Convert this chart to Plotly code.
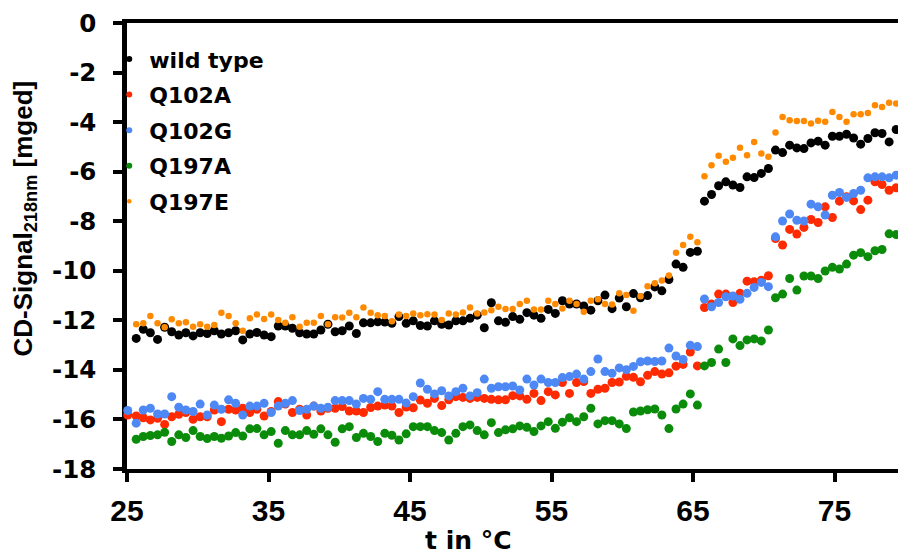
import plotly.graph_objects as go

# Temperature grid (°C); first entry is the extra leading reading of Q102A / Q102G
temps = [25.05,
         25.65, 26.15, 26.65, 27.16, 27.66, 28.16, 28.66, 29.16, 29.67, 30.17,
         30.67, 31.17, 31.67, 32.18, 32.68, 33.18, 33.68, 34.18, 34.69, 35.19,
         35.69, 36.19, 36.69, 37.20, 37.70, 38.20, 38.70, 39.20, 39.71, 40.21,
         40.71, 41.21, 41.71, 42.22, 42.72, 43.22, 43.72, 44.22, 44.73, 45.23,
         45.73, 46.23, 46.73, 47.24, 47.74, 48.24, 48.74, 49.24, 49.75, 50.25,
         50.75, 51.25, 51.75, 52.26, 52.76, 53.26, 53.76, 54.26, 54.77, 55.27,
         55.77, 56.27, 56.77, 57.28, 57.78, 58.28, 58.78, 59.28, 59.79, 60.29,
         60.79, 61.29, 61.79, 62.30, 62.80, 63.30, 63.80, 64.30, 64.81, 65.31,
         65.81, 66.31, 66.81, 67.32, 67.82, 68.32, 68.82, 69.32, 69.83, 70.33,
         70.83, 71.33, 71.83, 72.34, 72.84, 73.34, 73.84, 74.34, 74.85, 75.35,
         75.85, 76.35, 76.85, 77.36, 77.86, 78.36, 78.86, 79.36, 79.70]

wild_type = [None,
    -12.73, -12.36, -12.50, -12.77, -12.28, -12.46, -12.59, -12.50, -12.63, -12.50,
    -12.53, -12.42, -12.55, -12.50, -12.42, -12.79, -12.55, -12.49, -12.59, -12.66,
    -12.23, -12.23, -12.32, -12.50, -12.55, -12.55, -12.39, -12.16, -12.46, -12.42,
    -12.23, -12.53, -12.10, -12.10, -12.06, -12.07, -12.12, -11.85, -12.12, -12.02,
    -12.21, -12.23, -12.02, -12.16, -12.19, -12.02, -12.02, -11.92, -11.79, -12.30,
    -11.29, -12.02, -12.08, -11.85, -11.96, -11.69, -11.79, -11.92, -11.56, -11.72,
    -11.21, -11.34, -11.34, -11.42, -11.59, -11.21, -10.98, -11.53, -11.10, -11.45,
    -10.92, -11.09, -11.00, -10.65, -10.81, -10.35, -9.73, -9.86, -9.26, -9.21,
    -7.19, -6.92, -6.57, -6.41, -6.54, -6.64, -6.21, -6.24, -6.07, -5.87,
    -5.13, -5.23, -4.93, -5.04, -5.07, -4.84, -4.77, -4.93, -4.57, -4.57,
    -4.49, -4.64, -4.89, -4.66, -4.43, -4.46, -4.80, -4.30, -4.06]

q102a = [-15.82,
    -15.86, -15.93, -16.02, -15.95, -16.20, -15.89, -15.79, -15.72, -15.99, -15.89,
    -15.89, -15.62, -16.09, -15.59, -15.62, -15.55, -15.72, -15.59, -15.86, -15.68,
    -15.28, -15.38, -15.72, -15.59, -15.82, -15.46, -15.66, -15.55, -15.55, -15.48,
    -15.66, -15.66, -15.72, -15.52, -15.46, -15.42, -15.46, -15.72, -15.50, -15.53,
    -15.22, -15.35, -15.15, -15.44, -15.21, -15.08, -15.11, -15.15, -15.11, -15.15,
    -15.19, -15.21, -15.21, -15.04, -15.05, -15.19, -14.95, -15.24, -14.88, -15.01,
    -14.51, -14.95, -14.51, -14.47, -14.95, -14.78, -14.74, -14.51, -14.49, -14.26,
    -14.30, -14.48, -14.22, -14.07, -14.17, -14.12, -13.85, -13.78, -13.28, -13.84,
    -11.48, -11.34, -10.94, -10.94, -11.28, -10.91, -10.42, -10.44, -10.38, -10.20,
    -8.70, -8.96, -8.33, -8.52, -8.25, -7.93, -8.05, -7.42, -7.85, -7.19,
    -7.01, -7.18, -7.53, -7.15, -6.41, -6.52, -6.75, -6.65, -6.28]

q102g = [-15.64,
    -16.15, -15.62, -15.55, -15.78, -15.78, -15.08, -15.51, -15.62, -15.68, -15.38,
    -15.82, -15.42, -15.59, -15.21, -15.35, -15.82, -15.46, -15.46, -15.35, -15.72,
    -15.46, -15.35, -15.24, -15.64, -15.59, -15.46, -15.55, -15.51, -15.24, -15.24,
    -15.24, -15.38, -15.15, -15.19, -14.88, -15.19, -15.19, -15.19, -15.34, -15.08,
    -14.53, -14.78, -14.97, -14.84, -15.05, -14.88, -14.74, -15.05, -14.92, -14.37,
    -14.74, -14.68, -14.68, -14.65, -14.81, -14.37, -14.61, -14.37, -14.51, -14.51,
    -14.31, -14.27, -14.17, -14.37, -14.07, -13.56, -14.07, -14.14, -13.92, -13.99,
    -13.86, -13.67, -13.64, -13.66, -13.64, -13.12, -13.44, -13.58, -13.01, -13.06,
    -11.14, -11.45, -11.28, -11.05, -11.02, -11.15, -10.91, -10.67, -10.47, -10.64,
    -8.63, -7.99, -7.71, -7.96, -7.99, -7.31, -7.42, -7.75, -6.95, -6.84,
    -7.04, -6.88, -6.75, -6.25, -6.21, -6.21, -6.25, -6.14, -5.78]

q197a = [None,
    -16.80, -16.69, -16.65, -16.62, -16.52, -16.89, -16.62, -16.73, -16.45, -16.69,
    -16.77, -16.69, -16.76, -16.67, -16.53, -16.67, -16.38, -16.37, -16.62, -16.49,
    -16.96, -16.45, -16.62, -16.62, -16.45, -16.60, -16.38, -16.62, -16.92, -16.38,
    -16.29, -16.73, -16.56, -16.69, -16.89, -16.56, -16.64, -16.83, -16.58, -16.29,
    -16.29, -16.29, -16.45, -16.53, -16.83, -16.56, -16.29, -16.22, -16.45, -16.62,
    -16.13, -16.53, -16.42, -16.38, -16.26, -16.32, -16.49, -16.26, -16.09, -16.36,
    -16.11, -15.93, -16.09, -15.89, -15.55, -16.18, -16.05, -16.05, -16.18, -16.37,
    -15.70, -15.66, -15.61, -15.58, -15.82, -16.37, -15.58, -15.38, -14.97, -15.42,
    -13.84, -13.70, -13.16, -13.70, -12.75, -13.02, -12.79, -12.75, -12.83, -12.39,
    -11.09, -10.94, -10.31, -10.78, -10.21, -10.21, -10.31, -10.01, -9.86, -9.93,
    -9.73, -9.37, -9.27, -9.43, -9.19, -9.14, -8.51, -8.54, -8.16]

q197e = [None,
    -12.16, -12.12, -11.83, -12.12, -12.28, -11.96, -12.12, -12.08, -12.26, -12.16,
    -12.26, -12.19, -11.69, -11.83, -12.12, -12.42, -11.92, -11.76, -11.95, -11.76,
    -11.99, -12.10, -11.88, -12.26, -12.10, -12.10, -11.83, -12.16, -11.88, -11.89,
    -11.69, -11.88, -11.48, -11.69, -11.79, -11.83, -12.04, -11.76, -11.83, -11.72,
    -11.79, -11.75, -11.76, -11.99, -11.72, -11.76, -11.68, -11.48, -11.72, -11.68,
    -11.59, -11.45, -11.54, -11.54, -11.34, -11.21, -11.56, -11.56, -11.21, -11.34,
    -11.52, -11.21, -11.34, -11.65, -11.21, -11.15, -11.34, -11.36, -10.91, -10.98,
    -11.61, -11.03, -10.62, -10.50, -10.39, -10.19, -9.27, -8.96, -8.63, -8.85,
    -6.18, -5.74, -5.36, -5.60, -5.44, -5.03, -5.34, -4.80, -5.27, -5.40,
    -4.42, -3.79, -3.92, -3.96, -3.96, -4.06, -3.95, -3.99, -3.59, -3.79,
    -3.99, -3.68, -3.68, -3.63, -3.32, -3.39, -3.22, -3.25, None]

series_names = ["wild type", "Q102A", "Q102G", "Q197A", "Q197E"]
series_values = [wild_type, q102a, q102g, q197a, q197e]
series_colors = ["#000000", "#ff2a00", "#4d88f5", "#0a8c0a", "#ff8a00"]
marker_sizes = [9, 9, 9, 9, 6.5]
legend_sizes = [6, 6, 6, 6, 4.5]

x_tickvals = [25, 35, 45, 55, 65, 75]
x_ticktext = ["25", "35", "45", "55", "65", "75"]
y_tickvals = [0, -2, -4, -6, -8, -10, -12, -14, -16, -18]
y_ticktext = ["0", "-2", "-4", "-6", "-8", "-10", "-12", "-14", "-16", "-18"]

fig = go.Figure()
for name, vals, col, ms in zip(series_names, series_values, series_colors, marker_sizes):
    fig.add_trace(go.Scatter(
        x=temps, y=vals, mode="markers", name=name, showlegend=False,
        marker=dict(color=col, size=ms, line=dict(width=0)),
        cliponaxis=False, hoverinfo="x+y+name"))
# legend entries (small dots like the original legend)
for name, col, ls in zip(series_names, series_colors, legend_sizes):
    fig.add_trace(go.Scatter(
        x=[None], y=[None], mode="markers", name=name, showlegend=True,
        legendgroup=name,
        marker=dict(color=col, size=ls, line=dict(width=0))))

L, R, T, B = 127, 0, 23, 87
plot_w = 898 - L - R
plot_h = 556 - T - B

fig.update_layout(
    width=898, height=556,
    margin=dict(l=L, r=R, t=T, b=B, pad=0),
    paper_bgcolor="white", plot_bgcolor="white",
    showlegend=True,
    legend=dict(
        x=-0.023, y=0.966, xanchor="left", yanchor="top",
        bgcolor="rgba(0,0,0,0)", borderwidth=0,
        font=dict(family="DejaVu Sans", size=22, color="black", weight="bold"),
        itemwidth=30, tracegroupgap=4, traceorder="grouped"),
    xaxis=dict(
        range=[25, 25 + plot_w / 14.15],
        tickvals=x_tickvals, ticktext=x_ticktext,
        showline=True, linecolor="black", linewidth=4, mirror=True,
        ticks="outside", ticklen=9, tickwidth=3.5, tickcolor="black",
        showgrid=False, zeroline=False, layer="below traces",
        tickfont=dict(family="Liberation Sans", size=30, color="black", weight="bold"),
        ticklabelstandoff=3),
    yaxis=dict(
        range=[-18, 0],
        tickvals=y_tickvals, ticktext=y_ticktext,
        showline=True, linecolor="black", linewidth=4.5, mirror=False,
        ticks="outside", ticklen=9, tickwidth=3.5, tickcolor="black",
        showgrid=False, zeroline=False, layer="below traces",
        tickfont=dict(family="DejaVu Sans", size=24.5, color="black", weight="bold"),
        ticklabelstandoff=12),
    annotations=[
        dict(text="CD-Signal<sub>218nm</sub> [mged]", textangle=-90,
             xref="paper", yref="paper",
             x=(24 - L) / plot_w, y=(556 - B - 218.5) / plot_h,
             xanchor="center", yanchor="middle", showarrow=False,
             font=dict(family="Liberation Sans", size=26, color="black", weight="bold")),
        dict(text="t in °C", xref="paper", yref="paper",
             x=(468 - L) / plot_w, y=(556 - B - 540) / plot_h,
             xanchor="center", yanchor="middle", showarrow=False,
             font=dict(family="DejaVu Sans", size=25, color="black", weight="bold")),
    ],
)

fig.write_html("out.html")
